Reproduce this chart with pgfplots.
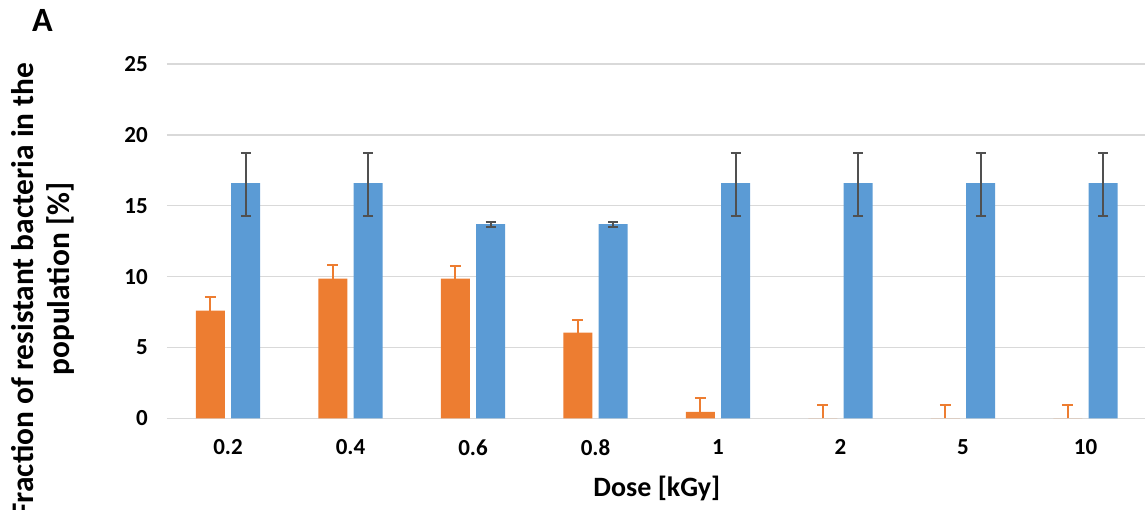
\documentclass[border=0pt]{standalone}
\usepackage{pgfplots}
\pgfplotsset{compat=1.18}
\usepackage{fontspec}
\setmainfont{Carlito}
\definecolor{cOrange}{HTML}{ED7D31}
\definecolor{cBlue}{HTML}{5B9BD5}
\definecolor{cGrid}{HTML}{D9D9D9}
\definecolor{cErr}{HTML}{505050}
\begin{document}
\begin{tikzpicture}
\begin{axis}[
  scale only axis,
  width=490pt, height=177.15pt,
  xmin=-0.5, xmax=7.5,
  ymin=0, ymax=25,
  ytick={0,5,...,25},
  xtick={0,...,7},
  xticklabels={0.2,0.4,0.6,0.8,1,2,5,10},
  major tick length=0pt,
  axis line style={draw=none},
  ymajorgrids,
  grid style={cGrid, line width=0.75pt},
  /pgf/number format/assume math mode=true,
  ticklabel style={font=\fontsize{11.5}{13}\selectfont\bfseries},
  xticklabel style={yshift=-7pt},
  yticklabel style={xshift=-6pt},
  xlabel={Dose [kGy]},
  xlabel style={font=\fontsize{14}{16}\selectfont\bfseries, at={(axis description cs:0.5,0)}, anchor=center, yshift=-35pt},
  ylabel={Fraction of resistant bacteria in the\hphantom{\hspace{11pt}}\\population [\%]},
  ylabel style={font=\fontsize{15.7}{18}\selectfont\bfseries, align=center, at={(axis description cs:-0.126,0.393)}, anchor=center},
  clip=false,
]
\addplot[ybar, bar width=14.5pt, bar shift=0pt, fill=cOrange, draw=none,
  error bars/.cd, y dir=plus, y explicit,
  error bar style={cOrange, line width=1pt},
  error mark options={rotate=90, mark size=2.75pt, line width=1pt, cOrange}]
coordinates {
(-0.1445,7.6) +- (0,0.98)
(0.8555,9.85) +- (0,0.97)
(1.8555,9.85) +- (0,0.9)
(2.8555,6.05) +- (0,0.9)
(3.8555,0.45) +- (0,0.98)
(4.8555,0) +- (0,0.95)
(5.8555,0) +- (0,0.95)
(6.8555,0) +- (0,0.95)
};
\addplot[ybar, bar width=14.5pt, bar shift=0pt, fill=cBlue, draw=none,
  error bars/.cd, y dir=both, y explicit,
  error bar style={cErr, line width=1pt},
  error mark options={rotate=90, mark size=2.5pt, line width=1pt, cErr}]
coordinates {
(0.1445,16.6) += (0,2.15) -= (0,2.3)
(1.1445,16.6) += (0,2.15) -= (0,2.3)
(2.1445,13.7) += (0,0.15) -= (0,0.22)
(3.1445,13.7) += (0,0.15) -= (0,0.22)
(4.1445,16.6) += (0,2.15) -= (0,2.3)
(5.1445,16.6) += (0,2.15) -= (0,2.3)
(6.1445,16.6) += (0,2.15) -= (0,2.3)
(7.1445,16.6) += (0,2.15) -= (0,2.3)
};
\node[font=\fontsize{17}{19}\selectfont\bfseries] at (axis description cs:-0.1268,1.123) {A};
\end{axis}
\pgfresetboundingbox
\useasboundingbox (-83.4pt,-45.35pt) rectangle (489.1pt,209.15pt);
\end{tikzpicture}
\end{document}
